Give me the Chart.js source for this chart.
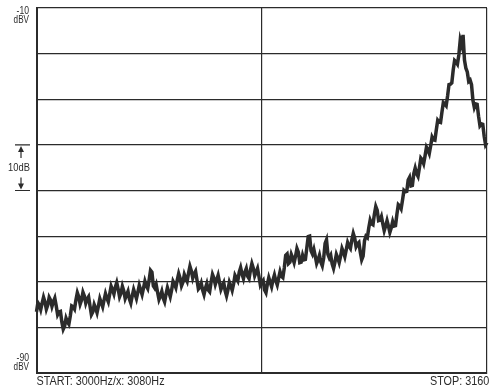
<!DOCTYPE html>
<html>
<head>
<meta charset="utf-8">
<script src="https://cdn.jsdelivr.net/npm/chart.js@4"></script>
<style>
  html, body { margin: 0; padding: 0; background: #fff; }
  #wrap { width: 490px; height: 389px; }
</style>
</head>
<body>
<div id="wrap"><canvas id="spectrum"></canvas></div>
<script>
// Sweep 3000..3160 Hz, a reading every half Hz
const startHz = 3000;
const stopHz = 3160;
const centerHz = 3080;
const stepHz = 0.5;

// level in dBV (noisy, so it zigzags)
const levels = [
  -76.6, -74.6, -75.1, -76.1, -74.7, -73.4, -74.4, -76.0, -75.1, -73.4,
  -74.0, -75.4, -74.4, -73.6, -75.3, -77.2, -76.6, -76.5, -78.8, -80.4,
  -79.7, -78.0, -78.8, -79.3, -77.5, -75.3, -75.5, -76.0, -74.0, -72.4,
  -73.3, -74.9, -74.0, -72.3, -73.1, -74.7, -73.8, -73.3, -75.3, -77.2,
  -76.6, -75.0, -75.8, -76.8, -75.3, -73.7, -74.6, -75.5, -74.0, -72.6,
  -73.6, -74.4, -72.7, -71.0, -71.8, -72.7, -71.2, -70.2, -71.6, -73.3,
  -72.5, -71.0, -72.0, -73.7, -72.9, -72.1, -73.8, -74.7, -73.1, -71.7,
  -72.7, -73.7, -72.3, -70.8, -71.8, -72.8, -71.4, -69.9, -70.9, -71.5,
  -69.6, -67.5, -67.9, -70.9, -71.4, -70.6, -72.3, -73.9, -73.1, -72.1,
  -73.6, -74.4, -72.7, -71.3, -72.3, -73.3, -71.8, -69.9, -70.5, -71.3,
  -69.6, -68.2, -69.2, -70.9, -70.1, -68.4, -69.2, -69.9, -68.1, -66.6,
  -67.6, -69.2, -68.3, -67.7, -69.6, -71.6, -71.2, -70.3, -71.8, -72.8,
  -71.4, -70.4, -71.8, -72.2, -70.1, -68.4, -69.2, -70.6, -69.6, -68.6,
  -70.1, -71.7, -70.9, -70.2, -72.0, -73.1, -71.8, -70.1, -70.9, -71.9,
  -70.5, -68.6, -69.2, -69.8, -67.9, -66.9, -68.3, -69.3, -67.9, -67.1,
  -68.8, -69.3, -67.4, -66.0, -67.0, -68.7, -67.9, -67.1, -68.8, -70.7,
  -70.1, -69.7, -71.8, -72.4, -70.5, -69.1, -70.1, -71.1, -69.6, -68.5,
  -69.8, -70.7, -69.2, -67.8, -68.8, -69.1, -67.0, -64.2, -63.9, -66.0,
  -65.7, -64.0, -64.8, -65.8, -64.4, -62.7, -63.5, -65.8, -65.7, -64.2,
  -65.2, -65.1, -62.6, -60.1, -60.0, -63.2, -63.9, -62.9, -64.4, -66.0,
  -65.2, -64.2, -65.7, -66.5, -64.8, -61.6, -60.8, -64.0, -64.8, -64.2,
  -66.1, -67.1, -65.7, -64.0, -64.8, -65.8, -64.4, -62.7, -63.5, -64.5,
  -63.0, -61.4, -62.2, -62.7, -60.8, -59.4, -60.4, -62.3, -61.7, -61.4,
  -63.5, -65.2, -64.4, -61.0, -60.0, -60.3, -58.2, -56.5, -57.3, -57.5,
  -55.2, -53.5, -54.3, -56.6, -56.5, -55.7, -57.3, -58.8, -57.8, -56.6,
  -57.8, -59.2, -58.2, -56.8, -57.8, -57.7, -55.2, -53.1, -53.4, -54.0,
  -52.1, -50.0, -50.3, -50.2, -47.7, -47.1, -49.0, -48.9, -46.3, -45.1,
  -46.3, -46.9, -45.0, -42.9, -43.3, -44.1, -42.4, -40.5, -41.1, -41.9,
  -40.2, -38.3, -38.9, -39.0, -36.7, -34.6, -35.0, -35.1, -32.8, -30.7,
  -31.0, -31.4, -29.3, -26.8, -26.7, -26.4, -23.6, -21.5, -21.8, -22.3,
  -20.3, -17.0, -18.1, -15.9, -21.4, -23.2, -24.0, -26.1, -25.8, -26.8,
  -30.2, -31.8, -31.0, -31.1, -33.7, -35.8, -35.4, -35.5, -38.1, -40.0,
  -39.5
];
const topDbv = -10;
const bottomDbv = -90;

const points = levels.map((v, i) => ({ x: startHz + i * stepHz, y: v }));

const ink = '#2b2b2b';
const font = '"Liberation Sans", Arial, sans-serif';

// narrow lettering like the analyser's plotter
function squeezed(ctx, txt, x, y, align, sx) {
  ctx.save();
  ctx.translate(x, y);
  ctx.scale(sx, 1);
  ctx.textAlign = align;
  ctx.fillText(txt, 0, 0);
  ctx.restore();
}

const labels = {
  id: 'labels',
  afterDraw(chart) {
    const ctx = chart.ctx;
    const a = chart.chartArea;
    const ys = chart.scales.y;
    ctx.save();
    ctx.fillStyle = ink;
    ctx.strokeStyle = ink;
    ctx.textBaseline = 'middle';

    ctx.font = '11px ' + font;
    squeezed(ctx, String(topDbv), 29, 11, 'right', 0.78);
    squeezed(ctx, 'dBV', 29, 20, 'right', 0.74);
    squeezed(ctx, String(bottomDbv), 29, 358, 'right', 0.78);
    squeezed(ctx, 'dBV', 29, 367, 'right', 0.74);

    // 10dB scale marker
    const y1 = ys.getPixelForValue(-40);
    const y2 = ys.getPixelForValue(-50);
    const xm = 21;
    ctx.lineWidth = 1.2;
    ctx.beginPath();
    ctx.moveTo(15, y1); ctx.lineTo(30, y1);
    ctx.moveTo(15, y2); ctx.lineTo(30, y2);
    ctx.moveTo(xm, y1 + 4); ctx.lineTo(xm, y1 + 13);
    ctx.moveTo(xm, y2 - 4); ctx.lineTo(xm, y2 - 13);
    ctx.stroke();
    ctx.beginPath();
    ctx.moveTo(xm, y1 + 1); ctx.lineTo(xm - 3, y1 + 7); ctx.lineTo(xm + 3, y1 + 7); ctx.closePath();
    ctx.moveTo(xm, y2 - 1); ctx.lineTo(xm - 3, y2 - 7); ctx.lineTo(xm + 3, y2 - 7); ctx.closePath();
    ctx.fill();
    squeezed(ctx, '10dB', 19, (y1 + y2) / 2, 'center', 0.85);

    ctx.font = '12px ' + font;
    squeezed(ctx, 'START: ' + startHz + 'Hz/x: ' + centerHz + 'Hz', a.left, 382, 'left', 0.9);
    squeezed(ctx, 'STOP: ' + stopHz + 'Hz', 430, 382, 'left', 0.9);
    ctx.restore();
  }
};

new Chart(document.getElementById('spectrum'), {
  type: 'line',
  data: {
    datasets: [{
      data: points,
      borderColor: ink,
      borderWidth: 3.5,
      pointRadius: 0,
      tension: 0,
      clip: 4
    }]
  },
  options: {
    responsive: true,
    maintainAspectRatio: false,
    animation: false,
    layout: { padding: { left: 36.5, top: 8, right: 3, bottom: 16 } },
    plugins: { legend: { display: false }, tooltip: { enabled: false } },
    scales: {
      x: {
        type: 'linear',
        min: startHz,
        max: stopHz,
        ticks: { display: false, stepSize: 80 },
        grid: { color: ink, lineWidth: 1.2, drawTicks: false },
        border: { color: ink, width: 2 }
      },
      y: {
        min: bottomDbv,
        max: topDbv,
        ticks: { display: false, stepSize: 10 },
        grid: { color: ink, lineWidth: 1.2, drawTicks: false },
        border: { color: ink, width: 2 }
      }
    }
  },
  plugins: [labels]
});
</script>
</body>
</html>
